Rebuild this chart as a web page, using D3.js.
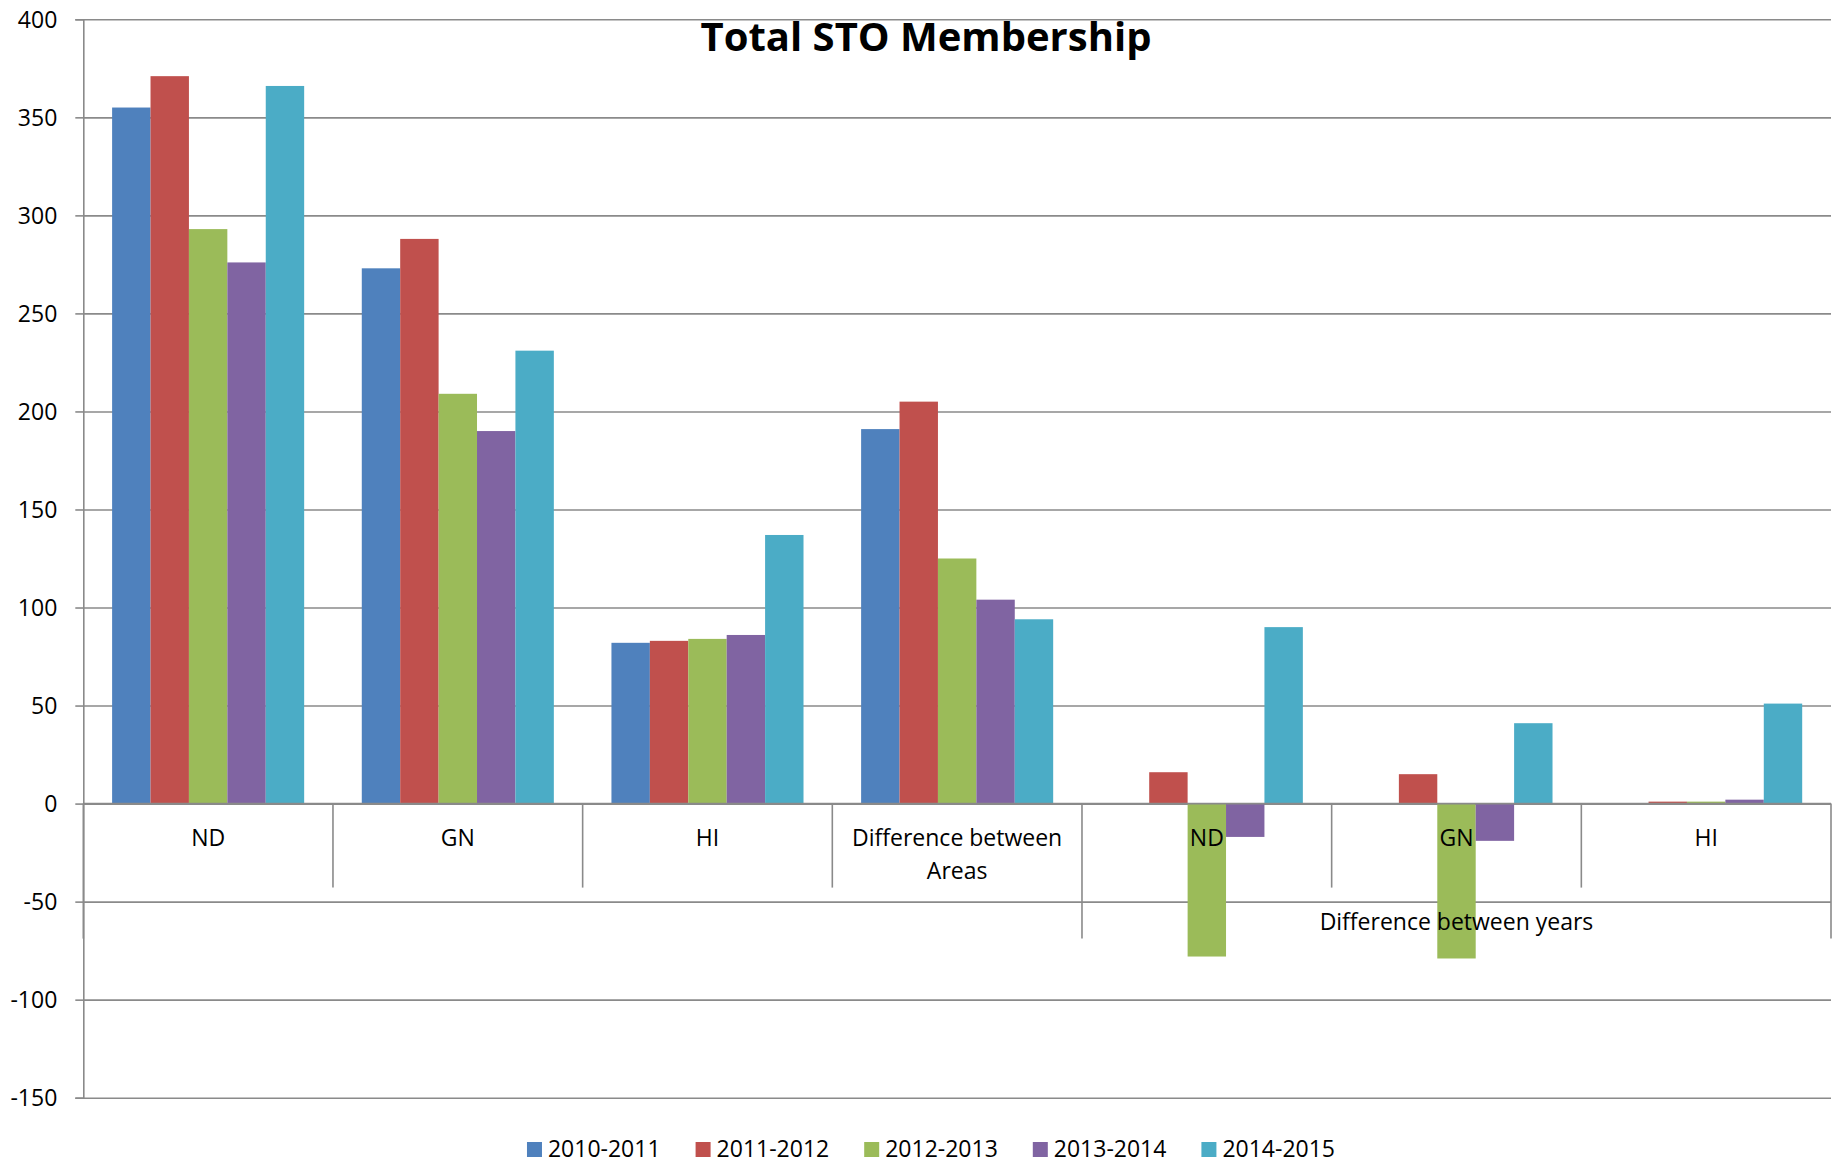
<!DOCTYPE html>
<html>
<head>
<meta charset="utf-8">
<script src="https://cdn.jsdelivr.net/npm/d3@7"></script>
<style>
  html, body { margin: 0; padding: 0; background: #ffffff; }
  svg { display: block; }
  text { font-family: "Open Sans", "Liberation Sans", sans-serif; fill: #000; }
</style>
</head>
<body>
<svg id="chart" width="1841" height="1164"></svg>
<script>
// ---------------- DATA ----------------
const chartTitle = "Total STO Membership";
const categories = ["ND", "GN", "HI", "Difference between Areas", "ND", "GN", "HI"];
const categoryGroups = ["", "", "", "", "Difference between years", "Difference between years", "Difference between years"];
const seriesNames = ["2010-2011", "2011-2012", "2012-2013", "2013-2014", "2014-2015"];
const values2010_2011 = [355, 273, 82, 191, 0, 0, 0];
const values2011_2012 = [371, 288, 83, 205, 16, 15, 1];
const values2012_2013 = [293, 209, 84, 125, -78, -79, 1];
const values2013_2014 = [276, 190, 86, 104, -17, -19, 2];
const values2014_2015 = [366, 231, 137, 94, 90, 41, 51];
const yTicks = [-150, -100, -50, 0, 50, 100, 150, 200, 250, 300, 350, 400];
const seriesColors = ["#4F81BD", "#C0504D", "#9BBB59", "#8064A2", "#4BACC6"];

const seriesValues = [values2010_2011, values2011_2012, values2012_2013, values2013_2014, values2014_2015];

// ---------------- LAYOUT ----------------
const svg = d3.select("#chart");
const plotLeft = 83.3, plotRight = 1831, plotTop = 19.3, plotBottom = 1097.7;
const gridColor = "#8a8a8a";

const catIdx = categories.map((c, i) => i);
const x = d3.scaleBand().domain(catIdx).range([plotLeft, plotRight]).padding(0);
const xs = d3.scaleBand().domain(seriesNames).range([0, x.bandwidth()]).paddingInner(0).paddingOuter(0.75);
const y = d3.scaleLinear().domain([-150, 400]).range([plotBottom, plotTop]);
const y0 = y(0);

// gridlines
const grid = svg.append("g")
  .attr("transform", `translate(${plotLeft},0)`)
  .call(d3.axisLeft(y).tickValues(yTicks).tickSize(-(plotRight - plotLeft)).tickFormat(""));
grid.select(".domain").remove();
grid.selectAll("line").attr("stroke", gridColor).attr("stroke-width", 1.6);

// bars
const rows = [];
seriesNames.forEach((s, si) => {
  seriesValues[si].forEach((v, ci) => rows.push({ s, si, ci, v }));
});
svg.append("g").selectAll("rect").data(rows).join("rect")
  .attr("x", d => x(d.ci) + xs(d.s))
  .attr("width", xs.bandwidth())
  .attr("y", d => Math.min(y(d.v), y0))
  .attr("height", d => Math.abs(y(d.v) - y0))
  .attr("fill", d => seriesColors[d.si]);

// y axis with ticks and labels
const yAxis = svg.append("g")
  .attr("transform", `translate(${plotLeft},0)`)
  .call(d3.axisLeft(y).tickValues(yTicks).tickSize(8).tickPadding(18).tickFormat(d => String(d)));
yAxis.select(".domain").attr("stroke", gridColor).attr("stroke-width", 1.6);
yAxis.selectAll(".tick line").attr("stroke", gridColor).attr("stroke-width", 1.6);
yAxis.selectAll(".tick text")
  .attr("font-family", "'Open Sans', sans-serif")
  .attr("font-size", 23)
  .attr("fill", "#000")
  .attr("dy", "0.36em");

// category axis (multi-level)
const catAxis = svg.append("g");
catAxis.append("line")
  .attr("x1", plotLeft).attr("x2", plotRight).attr("y1", y0).attr("y2", y0)
  .attr("stroke", gridColor).attr("stroke-width", 1.6);

const level1Len = 84, level2Len = 135;
const boundaries = d3.range(categories.length + 1);
const groupBoundaries = boundaries.filter(i => i === 0 || i === categories.length || categoryGroups[i] !== categoryGroups[i - 1]);
const bx = i => (i < categories.length ? x(i) : x(categories.length - 1) + x.bandwidth());
catAxis.selectAll("line.sep").data(boundaries).join("line")
  .attr("class", "sep")
  .attr("x1", bx).attr("x2", bx)
  .attr("y1", y0)
  .attr("y2", i => y0 + (groupBoundaries.includes(i) ? level2Len : level1Len))
  .attr("stroke", gridColor).attr("stroke-width", 1.6);

// level-1 labels with wrapping
const maxLabelWidth = x.bandwidth() - 20;
categories.forEach((label, i) => {
  const t = catAxis.append("text")
    .attr("x", x(i) + x.bandwidth() / 2)
    .attr("y", y0 + 42)
    .attr("text-anchor", "middle")
    .attr("font-size", 23);
  const words = label.split(" ");
  let line = [];
  let tspan = t.append("tspan").attr("x", x(i) + x.bandwidth() / 2).attr("dy", 0);
  words.forEach(w => {
    line.push(w);
    tspan.text(line.join(" "));
    if (tspan.node().getComputedTextLength() > maxLabelWidth && line.length > 1) {
      line.pop();
      tspan.text(line.join(" "));
      line = [w];
      tspan = t.append("tspan").attr("x", x(i) + x.bandwidth() / 2).attr("dy", 33.3).text(w);
    }
  });
});

// level-2 labels
const groupSpans = [];
for (let g = 0; g < groupBoundaries.length - 1; g++) {
  const a = groupBoundaries[g], b = groupBoundaries[g + 1];
  groupSpans.push({ label: categoryGroups[a], a, b });
}
catAxis.selectAll("text.grp").data(groupSpans.filter(d => d.label)).join("text")
  .attr("class", "grp")
  .attr("x", d => (bx(d.a) + bx(d.b)) / 2)
  .attr("y", y0 + 126)
  .attr("text-anchor", "middle")
  .attr("font-size", 23)
  .text(d => d.label);

// title
svg.append("text")
  .attr("x", 926)
  .attr("y", 51)
  .attr("text-anchor", "middle")
  .attr("font-size", 40)
  .attr("font-weight", "bold")
  .text(chartTitle);

// legend
const legend = svg.append("g");
const legendItems = legend.selectAll("g").data(seriesNames).join("g");
legendItems.append("rect")
  .attr("width", 15).attr("height", 15)
  .attr("y", 1142)
  .attr("fill", (d, i) => seriesColors[i]);
legendItems.append("text")
  .attr("y", 1157)
  .attr("font-size", 23)
  .text(d => d);
let widths = [];
legendItems.select("text").each(function () { widths.push(this.getComputedTextLength()); });
const itemGap = 35, sq = 15, sqGap = 6;
const total = d3.sum(widths) + seriesNames.length * (sq + sqGap) + itemGap * (seriesNames.length - 1);
let cx = 931 - total / 2;
legendItems.each(function (d, i) {
  const g = d3.select(this);
  g.select("rect").attr("x", cx);
  g.select("text").attr("x", cx + sq + sqGap);
  cx += sq + sqGap + widths[i] + itemGap;
});
</script>
</body>
</html>
